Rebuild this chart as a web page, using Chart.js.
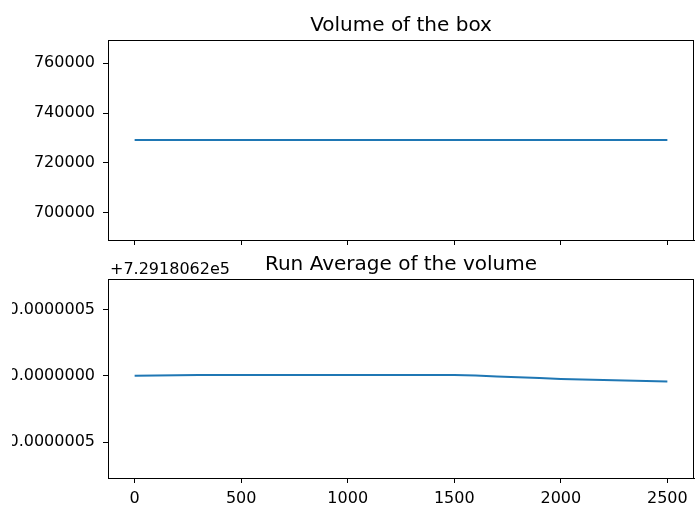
<!DOCTYPE html>
<html>
<head>
<meta charset="utf-8">
<script src="https://cdn.jsdelivr.net/npm/chart.js@4.4.1/dist/chart.umd.min.js"></script>
<style>
    html, body { margin: 0; padding: 0; background: #fff; }
    #wrap { position: relative; width: 695px; height: 506px; overflow: hidden; }
    .panel { position: absolute; }
    #volPanel { left: 0; top: 0; width: 695px; height: 250px; }
    #avgPanel { left: 12px; top: 250px; width: 683px; height: 256px; }
</style>
</head>
<body>
<div id="wrap">
    <div class="panel" id="volPanel"><canvas id="volumeChart"></canvas></div>
    <div class="panel" id="avgPanel"><canvas id="runAvgChart"></canvas></div>
</div>
<script>
    // simulation steps
    const steps = [0, 100, 200, 300, 400, 500, 600, 700, 800, 900, 1000, 1100, 1200,
        1300, 1400, 1500, 1600, 1700, 1800, 1900, 2000, 2100, 2200, 2300, 2400, 2500];

    // box volume at each step (constant)
    const boxVolume = steps.map(() => 729180.62);

    // running average, stored relative to the offset shown on the axis
    const runAvgOffset = '+7.2918062e5';
    const runAvgDelta = [0, 3e-9, 5e-9, 6e-9, 6e-9, 6e-9, 6e-9, 6e-9, 6e-9, 6e-9, 6e-9, 6e-9, 6e-9,
        6e-9, 6e-9, 6e-9, 2e-9, -4e-9, -1.1e-8, -1.7e-8, -2.3e-8, -2.8e-8, -3.2e-8, -3.6e-8, -3.9e-8, -4.2e-8];

    const xTicks = [0, 500, 1000, 1500, 2000, 2500];
    const volumeTicks = [700000, 720000, 740000, 760000];
    const runAvgTicks = [-5e-7, 0, 5e-7];

    const FONT = 'DejaVu Sans';
    const LINE_COLOR = '#1f77b4';

    // draws the axes frame, the title and the offset label
    const axesDecor = {
        id: 'axesDecor',
        afterDraw(chart, args, opts) {
            const { ctx, chartArea } = chart;
            ctx.save();
            ctx.strokeStyle = '#000';
            ctx.lineWidth = 1;
            ctx.strokeRect(Math.round(chartArea.left) + 0.5, Math.round(chartArea.top) + 0.5,
                Math.round(chartArea.right - chartArea.left) - 1, Math.round(chartArea.bottom - chartArea.top));
            ctx.fillStyle = '#000';
            ctx.font = '20px "' + FONT + '"';
            ctx.textAlign = 'center';
            ctx.textBaseline = 'alphabetic';
            ctx.fillText(opts.title, opts.titleX, chartArea.top - opts.titleGap);
            if (opts.offsetText) {
                ctx.font = '16px "' + FONT + '"';
                ctx.textAlign = 'left';
                ctx.fillText(opts.offsetText, chartArea.left + 2, chartArea.top - 5);
            }
            ctx.restore();
        }
    };

    function fixedTicks(values) {
        return function (scale) {
            scale.ticks = values.map(v => ({ value: v }));
        };
    }

    function makeOptions(cfg) {
        return {
            responsive: false,
            animation: false,
            layout: { padding: { top: cfg.top, right: 1, left: 0, bottom: 0 } },
            plugins: {
                legend: { display: false },
                tooltip: { enabled: false },
                axesDecor: { title: cfg.title, titleX: cfg.titleX, titleGap: cfg.titleGap, offsetText: cfg.offsetText }
            },
            scales: {
                x: {
                    type: 'linear',
                    min: -125,
                    max: 2625,
                    afterBuildTicks: fixedTicks(xTicks),
                    afterFit: scale => {
                        scale.height = cfg.xHeight;
                        scale.paddingLeft = 0;
                        scale.paddingRight = 0;
                    },
                    grid: { drawOnChartArea: false, tickLength: 5, color: '#000' },
                    border: { color: '#000' },
                    ticks: {
                        display: cfg.showXLabels,
                        color: '#000',
                        padding: 6,
                        maxRotation: 0,
                        font: { family: FONT, size: 16 },
                        callback: v => String(v)
                    }
                },
                y: {
                    type: 'linear',
                    min: cfg.yMin,
                    max: cfg.yMax,
                    afterBuildTicks: fixedTicks(cfg.yTicks),
                    afterFit: scale => {
                        scale.width = cfg.yWidth;
                        scale.paddingTop = 0;
                        scale.paddingBottom = 0;
                    },
                    grid: { drawOnChartArea: false, tickLength: 5, color: '#000' },
                    border: { color: '#000' },
                    ticks: {
                        color: '#000',
                        padding: 8,
                        font: { family: FONT, size: 16 },
                        callback: cfg.yFormat
                    }
                }
            }
        };
    }

    function lineData(values) {
        return {
            datasets: [{
                data: steps.map((s, i) => ({ x: s, y: values[i] })),
                borderColor: LINE_COLOR,
                borderWidth: 2,
                pointRadius: 0,
                fill: false,
                tension: 0
            }]
        };
    }

    const volCanvas = document.getElementById('volumeChart');
    volCanvas.width = 695; volCanvas.height = 250;
    new Chart(volCanvas, {
        type: 'line',
        data: lineData(boxVolume),
        options: makeOptions({
            top: 40, xHeight: 10, showXLabels: false, yWidth: 108,
            yMin: 689075, yMax: 769286, yTicks: volumeTicks,
            yFormat: v => String(v),
            title: 'Volume of the box', titleX: 401, titleGap: 9
        }),
        plugins: [axesDecor]
    });

    // this panel starts 12px in, so the long tick labels run off its left edge
    const avgCanvas = document.getElementById('runAvgChart');
    avgCanvas.width = 683; avgCanvas.height = 256;
    new Chart(avgCanvas, {
        type: 'line',
        data: lineData(runAvgDelta),
        options: makeOptions({
            top: 29, xHeight: 28, showXLabels: true, yWidth: 96,
            yMin: -7.7e-7, yMax: 7.3e-7, yTicks: runAvgTicks,
            yFormat: v => (v < 0 ? '\u2212' : '') + Math.abs(v).toFixed(7),
            title: 'Run Average of the volume', titleX: 389, titleGap: 9,
            offsetText: runAvgOffset
        }),
        plugins: [axesDecor]
    });
</script>
</body>
</html>
